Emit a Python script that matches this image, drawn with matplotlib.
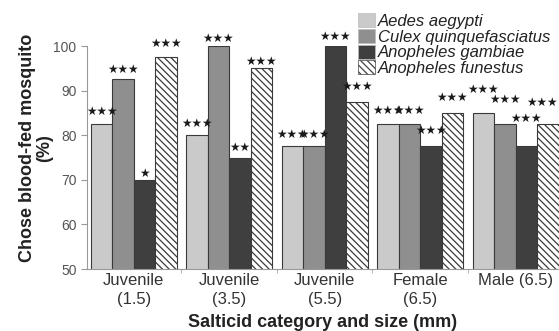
import numpy as np
import matplotlib.pyplot as plt
from matplotlib.patches import Patch

plt.rcParams['font.family'] = ['Liberation Sans', 'DejaVu Sans']
plt.rcParams['hatch.linewidth'] = 0.9

categories = ['Juvenile\n(1.5)', 'Juvenile\n(3.5)', 'Juvenile\n(5.5)',
              'Female\n(6.5)', 'Male (6.5)']
species = ['Aedes aegypti', 'Culex quinquefasciatus',
           'Anopheles gambiae', 'Anopheles funestus']
aedes = [82.5, 80.0, 77.5, 82.5, 85.0]
culex = [92.5, 100.0, 77.5, 82.5, 82.5]
gambiae = [70.0, 75.0, 100.0, 77.5, 77.5]
funestus = [97.5, 95.0, 87.5, 85.0, 82.5]
# significance marks per species, one per category
stars = [
    [3, 3, 3, 3, 3],
    [3, 3, 3, 3, 3],
    [1, 2, 3, 3, 3],
    [3, 3, 3, 3, 3],
]

colors = ['#cacaca', '#8f8f8f', '#3f3f3f', 'white']
hatches = [None, None, None, '\\\\\\\\\\']

# how far (px) each mark sits above its bar, so crowded ones don't collide
mark_lift = [
    [13, 12, 12, 14, 23],
    [10, 8, 12, 14, 25],
    [6, 10, 10, 16, 28],
    [14, 7, 15, 15, 22],
]


def main(filename='out.png'):
    fig = plt.figure(figsize=(5.59, 3.31), dpi=100)
    ax = fig.add_axes([0.1556, 0.187, 0.8444, 0.674])

    x = np.arange(len(categories))
    w = 0.225
    series = [aedes, culex, gambiae, funestus]
    for i, vals in enumerate(series):
        pos = x + (i - 1.5) * w
        ax.bar(pos, vals, w, bottom=0, color=colors[i], edgecolor='#3a3a3a',
               linewidth=0.8, hatch=hatches[i], zorder=2)
        for j, (p, v, n) in enumerate(zip(pos, vals, stars[i])):
            # keep the rightmost marks inside the figure
            dx = -6 if (i == 3 and j == len(x) - 1) else 0
            ax.annotate('\u2605' * n, (p, v), xytext=(dx, mark_lift[i][j]),
                        textcoords='offset pixels', ha='center', va='center',
                        fontsize=8.5, family='DejaVu Sans', color='#1a1a1a',
                        annotation_clip=False)

    ax.set_xlim(-0.49, 4.455)
    ax.set_ylim(50, 100)
    ax.set_yticks(range(50, 101, 10))
    ax.set_xticks(x)
    ax.set_xticklabels(categories, fontsize=12, color='#333333',
                       linespacing=1.3)
    ax.set_xticks(x[:-1] + 0.5, minor=True)
    ax.tick_params(axis='x', which='major', length=0, pad=3)
    ax.tick_params(axis='x', which='minor', length=3, color='#aaaaaa')
    ax.tick_params(axis='y', length=4, color='#999999', labelsize=10,
                   labelcolor='#555555')

    for side in ('top', 'right'):
        ax.spines[side].set_visible(False)
    for side in ('left', 'bottom'):
        ax.spines[side].set_color('#999999')
        ax.spines[side].set_linewidth(0.8)

    ax.set_ylabel('Chose blood-fed mosquito\n(%)', fontsize=13,
                  fontweight='bold', color='#222222', linespacing=1.0)
    ax.yaxis.set_label_coords(-0.072, 0.543)
    ax.set_xlabel('Salticid category and size (mm)', fontsize=13,
                  fontweight='bold', color='#222222', labelpad=5)

    handles = [Patch(facecolor=c, edgecolor='#bbbbbb' if h is None else '#444444',
                     hatch=h, linewidth=0.5)
               for c, h in zip(colors, hatches)]
    leg = fig.legend(handles, species, loc='upper left',
                     bbox_to_anchor=(0.617, 1.0), frameon=False,
                     prop={'style': 'italic', 'size': 12},
                     handlelength=1.0, handleheight=0.9, handletextpad=0.2,
                     labelspacing=0.0, borderpad=0.3)
    for t in leg.get_texts():
        t.set_color('#222222')

    fig.savefig(filename, dpi=100)


if __name__ == '__main__':
    main()
